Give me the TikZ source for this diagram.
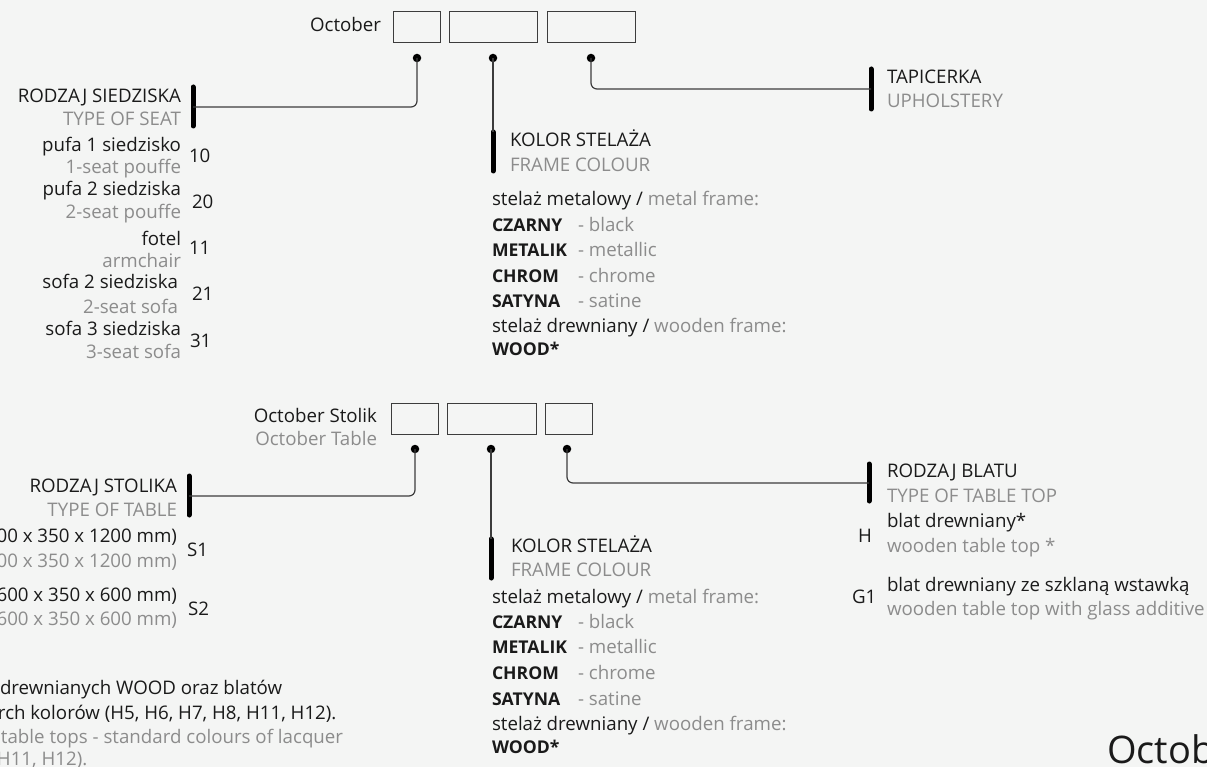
\documentclass[tikz,border=0pt]{standalone}
\usepackage{fontspec}
\setmainfont{Open Sans}
\definecolor{bgc}{HTML}{F4F5F4}
\definecolor{ink}{HTML}{1A1A1A}
\definecolor{grey}{HTML}{8C8C8C}
\definecolor{wire}{HTML}{3C3C3C}
\begin{document}
\begin{tikzpicture}[x=1pt,y=-1pt,
  every node/.style={inner sep=0pt,outer sep=0pt},
  tx/.style={font=\fontsize{18.7}{22}\selectfont,text=ink},
  gx/.style={font=\fontsize{18.7}{22}\selectfont,text=grey},
  bx/.style={font=\fontsize{17.6}{22}\selectfont\bfseries,text=ink},
  codebox/.style={draw=wire,line width=1pt,fill=none},
  dot/.style={circle,fill=black,minimum size=8.5pt},
  conn/.style={draw=wire,line width=1.2pt,rounded corners=6pt},
  bar/.style={line width=5pt,line cap=round,draw=black}]
\fill[bgc] (0,0) rectangle (1207,767);
\clip (0,0) rectangle (1207,767);
\useasboundingbox (0,0) rectangle (1207,767);

% ---------- top code: October ----------
\node[tx,anchor=base east] (oct) at (381,32) {October};
\draw[codebox] (393,12) rectangle (440,43);
\draw[codebox] (449,12) rectangle (537,43);
\draw[codebox] (547,12) rectangle (635,43);
\node[dot] (d1) at (417,58) {};
\node[dot] (d2) at (493,58) {};
\node[dot] (d3) at (591,58) {};

% bars
\coordinate (b1t) at (193,87); \coordinate (b1b) at (193,126); \coordinate (b1m) at (193,107);
\coordinate (b2t) at (493,132); \coordinate (b2b) at (493,171);
\coordinate (b3t) at (871,69); \coordinate (b3b) at (871,109); \coordinate (b3m) at (871,89);
\draw[bar] (b1t) -- (b1b);
\draw[bar] (b2t) -- (b2b);
\draw[bar] (b3t) -- (b3b);
\draw[conn] (d1.center) |- (b1m);
\draw[conn] (d2.center) -- (b2t);
\draw[conn] (d3.center) |- (b3m);

% seat type
\node[tx,anchor=base east] (rs) at (181,103) {RODZAJ SIEDZISKA};
\node[gx,anchor=base east] (rse) at (181,126) {TYPE OF SEAT};
\node[tx,anchor=base east] (s1) at (181,152) {pufa 1 siedzisko};
\node[gx,anchor=base east] (s1e) at (181,174) {1-seat pouffe};
\node[tx,anchor=base west] (n10) at (189,163) {10};
\node[tx,anchor=base east] (s2) at (181,196) {pufa 2 siedziska};
\node[gx,anchor=base east] (s2e) at (181,219) {2-seat pouffe};
\node[tx,anchor=base west] (n20) at (192,209) {20};
\node[tx,anchor=base east] (s3) at (181,246) {fotel};
\node[gx,anchor=base east] (s3e) at (181,268) {armchair};
\node[tx,anchor=base west] (n11) at (189,255) {11};
\node[tx,anchor=base east] (s4) at (178,289) {sofa 2 siedziska};
\node[gx,anchor=base east] (s4e) at (178,313) {2-seat sofa};
\node[tx,anchor=base west] (n21) at (192,301) {21};
\node[tx,anchor=base east] (s5) at (181,335) {sofa 3 siedziska};
\node[gx,anchor=base east] (s5e) at (181,358) {3-seat sofa};
\node[tx,anchor=base west] (n31) at (190,347) {31};

% upholstery
\node[tx,anchor=base west] (tap) at (887,84) {TAPICERKA};
\node[gx,anchor=base west] (tape) at (887,108) {UPHOLSTERY};

% frame colour (top)
\node[tx,anchor=base west] (ks1) at (510,147) {KOLOR STELAŻA};
\node[gx,anchor=base west] (ks1e) at (510,172) {FRAME COLOUR};
\node[tx,anchor=base west] (m1) at (492,206) {stelaż metalowy / \textcolor{grey}{metal frame:}};
\node[bx,anchor=base west] (c1) at (492,232) {CZARNY};
\node[gx,anchor=base west] (c1e) at (578,232) {- black};
\node[bx,anchor=base west] (c2) at (492,257) {METALIK};
\node[gx,anchor=base west] (c2e) at (578,257) {- metallic};
\node[bx,anchor=base west] (c3) at (492,283) {CHROM};
\node[gx,anchor=base west] (c3e) at (578,283) {- chrome};
\node[bx,anchor=base west] (c4) at (492,308) {SATYNA};
\node[gx,anchor=base west] (c4e) at (578,308) {- satine};
\node[tx,anchor=base west] (w1) at (492,332) {stelaż drewniany / \textcolor{grey}{wooden frame:}};
\node[bx,anchor=base west] (c5) at (492,355) {WOOD*};

% ---------- bottom code: October Stolik ----------
\node[tx,anchor=base east] (ocs) at (377,422) {October Stolik};
\node[gx,anchor=base east] (ocse) at (377,445) {October Table};
\draw[codebox] (391,403) rectangle (438,434);
\draw[codebox] (447,403) rectangle (536,434);
\draw[codebox] (545,403) rectangle (592,434);
\node[dot] (e1) at (415,449) {};
\node[dot] (e2) at (491,449) {};
\node[dot] (e3) at (567,449) {};

\coordinate (c1t) at (189,476); \coordinate (c1b) at (189,515); \coordinate (c1m) at (189,496);
\coordinate (c2t) at (491,539); \coordinate (c2b) at (491,578);
\coordinate (c3t) at (869,464); \coordinate (c3b) at (869,501); \coordinate (c3m) at (869,483);
\draw[bar] (c1t) -- (c1b);
\draw[bar] (c2t) -- (c2b);
\draw[bar] (c3t) -- (c3b);
\draw[conn] (e1.center) |- (c1m);
\draw[conn] (e2.center) -- (c2t);
\draw[conn] (e3.center) |- (c3m);

% table type
\node[tx,anchor=base east] (rst) at (177,492) {RODZAJ STOLIKA};
\node[gx,anchor=base east] (rste) at (177,516) {TYPE OF TABLE};
\node[tx,anchor=base east] (t1) at (177,542) {00 x 350 x 1200 mm)};
\node[gx,anchor=base east] (t1e) at (177,567) {00 x 350 x 1200 mm)};
\node[tx,anchor=base west] (ns1) at (187,556) {S1};
\node[tx,anchor=base east] (t2) at (177,601) {600 x 350 x 600 mm)};
\node[gx,anchor=base east] (t2e) at (177,625) {600 x 350 x 600 mm)};
\node[tx,anchor=base west] (ns2) at (188,615) {S2};

% footnote
\node[tx,anchor=base west] (f1) at (0,694) {drewnianych WOOD oraz blatów};
\node[tx,anchor=base west] (f2) at (-2,719) {rch kolorów (H5, H6, H7, H8, H11, H12).};
\node[gx,anchor=base west] (f3) at (1,743) {table tops - standard colours of lacquer};
\node[gx,anchor=base west] (f4) at (-3,765) {H11, H12).};

% frame colour (bottom)
\node[tx,anchor=base west] (ks2) at (511,552) {KOLOR STELAŻA};
\node[gx,anchor=base west] (ks2e) at (511,576) {FRAME COLOUR};
\node[tx,anchor=base west] (m2) at (492,603) {stelaż metalowy / \textcolor{grey}{metal frame:}};
\node[bx,anchor=base west] (k1) at (492,628) {CZARNY};
\node[gx,anchor=base west] (k1e) at (578,628) {- black};
\node[bx,anchor=base west] (k2) at (492,653) {METALIK};
\node[gx,anchor=base west] (k2e) at (578,653) {- metallic};
\node[bx,anchor=base west] (k3) at (492,679) {CHROM};
\node[gx,anchor=base west] (k3e) at (578,679) {- chrome};
\node[bx,anchor=base west] (k4) at (492,705) {SATYNA};
\node[gx,anchor=base west] (k4e) at (578,705) {- satine};
\node[tx,anchor=base west] (w2) at (492,730) {stelaż drewniany / \textcolor{grey}{wooden frame:}};
\node[bx,anchor=base west] (k5) at (492,753) {WOOD*};

% table top
\node[tx,anchor=base west] (rb) at (887,477) {RODZAJ BLATU};
\node[gx,anchor=base west] (rbe) at (887,502) {TYPE OF TABLE TOP};
\node[tx,anchor=base west] (h1) at (887,527) {blat drewniany*};
\node[gx,anchor=base west] (h1e) at (887,552) {wooden table top *};
\node[tx,anchor=base west] (nh) at (858,542) {H};
\node[tx,anchor=base west] (g1) at (887,591) {blat drewniany ze szklaną wstawką};
\node[gx,anchor=base west] (g1e) at (887,615) {wooden table top with glass additive};
\node[tx,anchor=base west] (ng) at (852,603) {G1};

% big title
\node[anchor=base west,font=\fontsize{38}{40}\selectfont,text=ink] (big) at (1107,763) {October};
\end{tikzpicture}
\end{document}
